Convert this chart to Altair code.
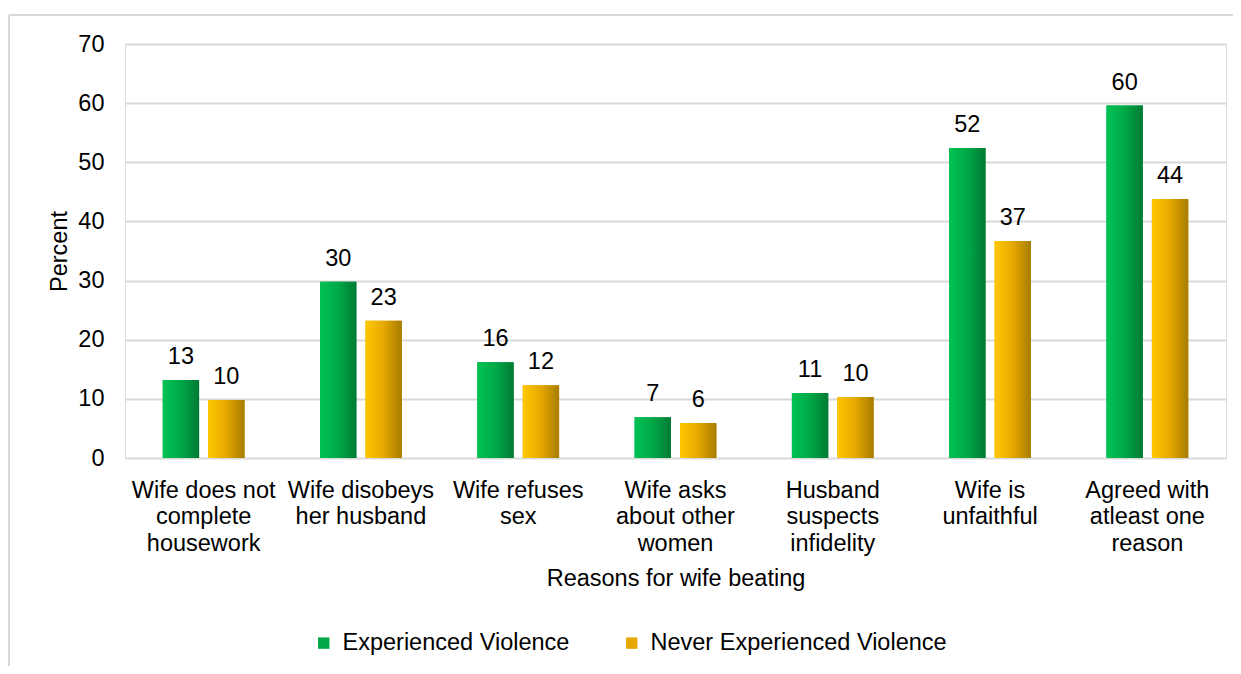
import altair as alt
import pandas as pd

categories = [
    "Wife does not\ncomplete\nhousework",
    "Wife disobeys\nher husband",
    "Wife refuses\nsex",
    "Wife asks\nabout other\nwomen",
    "Husband\nsuspects\ninfidelity",
    "Wife is\nunfaithful",
    "Agreed with\natleast one\nreason",
]
series_names = ["Experienced Violence", "Never Experienced Violence"]
experienced = [13.2, 29.8, 16.2, 6.9, 11.0, 52.4, 59.6]
never_experienced = [9.8, 23.2, 12.3, 5.9, 10.3, 36.7, 43.8]
y_ticks = [0, 10, 20, 30, 40, 50, 60, 70]

rows = []
for c, a, b in zip(categories, experienced, never_experienced):
    rows.append({"reason": c, "series": series_names[0], "value": a})
    rows.append({"reason": c, "series": series_names[1], "value": b})
df = pd.DataFrame(rows)

FONT = "Liberation Sans"
FS = 23.5

green_grad = alt.Gradient(
    gradient="linear",
    stops=[alt.GradientStop(color="#00c254", offset=0),
           alt.GradientStop(color="#00a847", offset=0.5),
           alt.GradientStop(color="#007a33", offset=1)],
    x1=0, x2=1, y1=0, y2=0,
)
gold_grad = alt.Gradient(
    gradient="linear",
    stops=[alt.GradientStop(color="#ffc800", offset=0),
           alt.GradientStop(color="#e6a800", offset=0.5),
           alt.GradientStop(color="#a67c00", offset=1)],
    x1=0, x2=1, y1=0, y2=0,
)

x_enc = alt.X(
    "reason:N",
    sort=categories,
    scale=alt.Scale(paddingInner=0.48, paddingOuter=0.24),
    axis=alt.Axis(
        title="Reasons for wife beating",
        labelExpr="split(datum.label, '\\n')",
        labelAngle=0,
        labelBaseline="top",
        labelLineHeight=26.5,
        labelPadding=20,
        labelOverlap=False,
        labelLimit=0,
        labelFontSize=FS,
        labelFont=FONT,
        labelColor="#000000",
        ticks=False,
        domain=False,
        titleFontSize=FS,
        titleFont=FONT,
        titleFontWeight="normal",
        titleColor="#000000",
        titleBaseline="alphabetic",
        titleY=127,
    ),
)
xoff_enc = alt.XOffset(
    "series:N",
    sort=series_names,
    scale=alt.Scale(domain=series_names, paddingInner=0.2, paddingOuter=0),
)
y_enc = alt.Y(
    "value:Q",
    scale=alt.Scale(domain=[0, 70], nice=False, zero=True),
    axis=alt.Axis(
        title="Percent",
        values=y_ticks,
        grid=True,
        gridColor="#d9d9d9",
        gridWidth=2,
        ticks=False,
        domain=False,
        labelFontSize=FS,
        labelFont=FONT,
        labelColor="#000000",
        labelPadding=21,
        titleFontSize=FS,
        titleFont=FONT,
        titleFontWeight="normal",
        titleColor="#000000",
        titleBaseline="alphabetic",
        titleX=-59,
        titleY=207,
    ),
)

base = alt.Chart(df)

legend_bars = base.mark_bar().encode(
    x=x_enc,
    xOffset=xoff_enc,
    y=y_enc,
    color=alt.Color(
        "series:N",
        sort=series_names,
        scale=alt.Scale(domain=series_names, range=["#00a847", "#e6a800"]),
        legend=alt.Legend(
            title=None,
            orient="none",
            legendX=187,
            legendY=587,
            direction="horizontal",
            symbolType="square",
            symbolSize=130,
            symbolStrokeWidth=0,
            labelFontSize=FS,
            labelFont=FONT,
            labelColor="#000000",
            labelLimit=0,
            labelOffset=7,
            columnPadding=50,
            padding=0,
        ),
    ),
)

green_bars = base.transform_filter(
    alt.datum.series == series_names[0]
).mark_bar(color=green_grad).encode(x=x_enc, xOffset=xoff_enc, y=y_enc)

gold_bars = base.transform_filter(
    alt.datum.series == series_names[1]
).mark_bar(color=gold_grad).encode(x=x_enc, xOffset=xoff_enc, y=y_enc)

labels = base.mark_text(
    baseline="alphabetic", dy=-16, fontSize=FS, font=FONT, color="#000000"
).encode(
    x=x_enc,
    xOffset=xoff_enc,
    y=y_enc,
    text=alt.Text("value:Q", format=".0f"),
)

one = pd.DataFrame({"k": [0]})
border_top = alt.Chart(one).mark_rule(color="#d9d9d9", strokeWidth=2).encode(
    x=alt.value(-116), x2=alt.value(1116), y=alt.value(-29)
)
border_left = alt.Chart(one).mark_rule(color="#d9d9d9", strokeWidth=2).encode(
    x=alt.value(-116), y=alt.value(-29), y2=alt.value(640)
)

chart = alt.layer(
    border_top, border_left, legend_bars, green_bars, gold_bars, labels
).properties(
    width=1101,
    height=414,
    autosize=alt.AutoSizeParams(type="none"),
    padding={"left": 117, "top": 36, "right": 7, "bottom": 208},
).configure_view(
    stroke=None
).configure(
    background="#ffffff"
)

chart.save("out.html", embed_options={"renderer": "svg", "actions": False})
